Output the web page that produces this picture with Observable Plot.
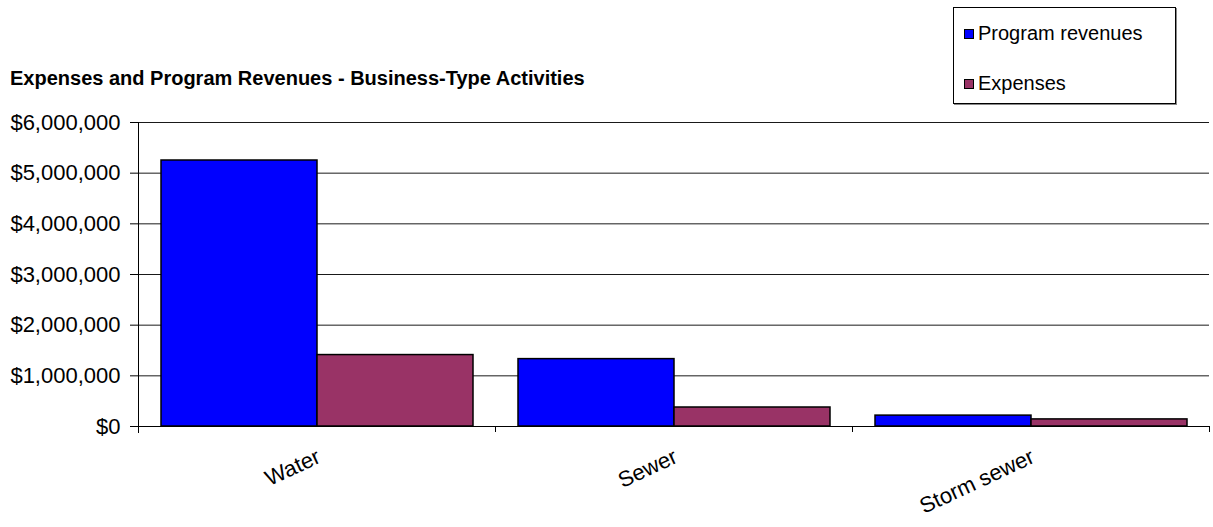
<!DOCTYPE html>
<html><head><meta charset="utf-8">
<script src="https://cdn.jsdelivr.net/npm/d3@7"></script>
<script src="https://cdn.jsdelivr.net/npm/@observablehq/plot@0.6"></script>
<style>
body{margin:0;background:#fff;font-family:"Liberation Sans",Arial,sans-serif;}
#wrap{position:relative;width:1213px;height:527px;overflow:hidden;}
#title{position:absolute;left:10px;top:68px;font-weight:bold;font-size:20px;line-height:20px;color:#000;white-space:nowrap;}
#legend{position:absolute;left:953px;top:7px;width:221px;height:95px;border:1px solid #000;box-shadow:1px 1px 0 #888;background:#fff;}
.item{position:absolute;left:10px;font-size:20px;color:#000;display:flex;align-items:center;white-space:nowrap;}
.sw{width:8px;height:8px;border:1px solid #000;margin-right:4px;}
#chart{position:absolute;left:0;top:0;}
</style></head>
<body><div id="wrap"><div id="chart"></div><div id="title"></div><div id="legend"></div></div>
<script>
const titleText = "Expenses and Program Revenues - Business-Type Activities";
const categories = ["Water", "Sewer", "Storm sewer"];
const seriesNames = ["Program revenues", "Expenses"];
const revenues = [5250000, 1330000, 215000];
const expenses = [1410000, 375000, 140000];
const yTicks = [0, 1000000, 2000000, 3000000, 4000000, 5000000, 6000000];
const colors = ["#0000FF", "#993366"];

const rows = [];
categories.forEach((c, i) => {
  rows.push({category: c, series: seriesNames[0], value: revenues[i]});
  rows.push({category: c, series: seriesNames[1], value: expenses[i]});
});

const fmt = d3.format("$,");

// small tick marks below the baseline at each category boundary (per facet)
function boundaryTicks(index, scales, values, dimensions) {
  const {width, height, marginLeft, marginRight, marginBottom} = dimensions;
  const bottom = height - marginBottom;
  const bw = scales.fx && scales.fx.bandwidth ? scales.fx.bandwidth() : (width - marginLeft - marginRight);
  const g = d3.create("svg:g").attr("stroke", "#000").attr("stroke-width", 1).attr("shape-rendering", "crispEdges");
  [marginLeft, marginLeft + bw].forEach(e => {
    g.append("line").attr("x1", e + 0.5).attr("x2", e + 0.5).attr("y1", bottom).attr("y2", bottom + 6);
  });
  return g.node();
}

const chart = Plot.plot({
  width: 1213,
  height: 527,
  marginTop: 122,
  marginLeft: 137,
  marginRight: 3,
  marginBottom: 101,
  style: {fontFamily: "'Liberation Sans', Arial, sans-serif", fontSize: "22px", color: "#000", background: "#fff"},
  fx: {domain: categories, padding: 0, label: null, axis: null},
  x: {domain: seriesNames, paddingInner: 0, paddingOuter: 0.14, axis: null},
  y: {domain: [0, 6000000], label: null, axis: null},
  color: {domain: seriesNames, range: colors},
  marks: [
    Plot.gridY(yTicks, {stroke: "#000", strokeOpacity: 0.9, strokeWidth: 1}),
    Plot.axisY(yTicks, {tickFormat: fmt, tickSize: 8, tickPadding: 10, fontSize: 22, label: null, stroke: "#000"}),
    Plot.frame({anchor: "left", facetAnchor: "left", stroke: "#000", insetBottom: -6}),
    Plot.axisFx({anchor: "bottom", tickRotate: -25, tickSize: 0, tickPadding: 29, fontSize: 22, label: null, dx: 2}),
    Plot.barY(rows, {fx: "category", x: "series", y: "value", fill: "series", stroke: "#000", strokeWidth: 1.5}),
    Plot.ruleY([0], {stroke: "#000"}),
    boundaryTicks
  ]
});
document.getElementById("chart").appendChild(chart);

document.getElementById("title").textContent = titleText;
const leg = document.getElementById("legend");
seriesNames.forEach((s, i) => {
  const it = document.createElement("div");
  it.className = "item";
  it.style.top = (i === 0 ? 14 : 64) + "px";
  const sw = document.createElement("span");
  sw.className = "sw";
  sw.style.background = colors[i];
  it.appendChild(sw);
  it.appendChild(document.createTextNode(s));
  leg.appendChild(it);
});
</script>
</body></html>
